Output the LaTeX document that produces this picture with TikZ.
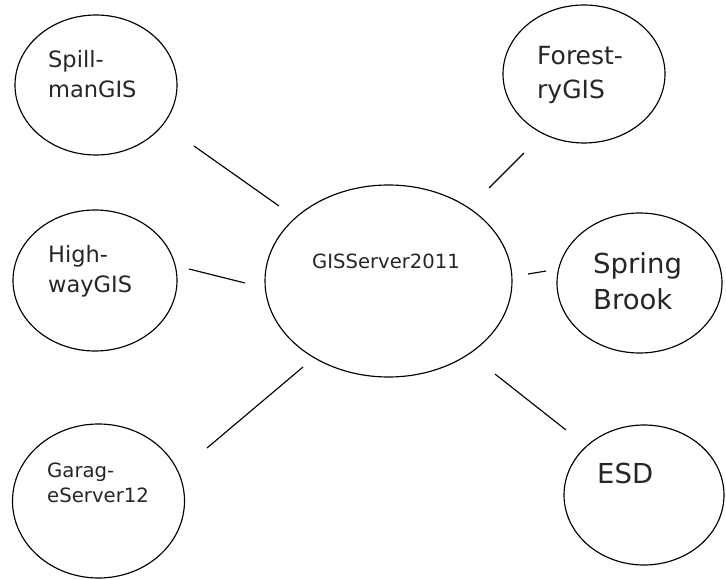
\documentclass[tikz,border=0pt]{standalone}
\usepackage{fontspec}
\setmainfont{DejaVu Sans}
\usetikzlibrary{shapes.geometric}
\newcommand{\twolns}[3]{\vtop{\baselineskip=#3pt\lineskiplimit=-100pt\hbox{#1}\hbox{#2}}}
\tikzset{
  bubble/.style={draw=black, line width=1.15pt, ellipse, inner sep=0pt},
  lbl/.style={anchor=base west, inner sep=0pt, text=black!85},
  link/.style={draw=black, line width=1.15pt}
}
\begin{document}
\begin{tikzpicture}[x=1pt,y=-1pt]
\useasboundingbox[fill=white] (0,0) rectangle (726,580);
% ellipses
\node[bubble, minimum width=162pt, minimum height=140pt] (sp) at (96,85) {};
\node[bubble, minimum width=164pt, minimum height=141pt] (hw) at (95,280.5) {};
\node[bubble, minimum width=172pt, minimum height=154pt] (gs) at (98.5,501) {};
\node[bubble, minimum width=247pt, minimum height=192pt] (gc) at (388.5,281) {};
\node[bubble, minimum width=162pt, minimum height=138pt] (fr) at (584,74) {};
\node[bubble, minimum width=165pt, minimum height=140pt] (sb) at (639.5,283) {};
\node[bubble, minimum width=160pt, minimum height=140pt] (es) at (644,495) {};
% labels
\node[lbl, font=\fontsize{22.5}{30}\selectfont] (tsp) at (48,68) {\twolns{Spill-}{manGIS}{30}};
\node[lbl, font=\fontsize{22.5}{30}\selectfont] (thw) at (48,263) {\twolns{High-}{wayGIS}{30}};
\node[lbl, font=\fontsize{19.7}{25}\selectfont] (tgs) at (47,477) {\twolns{Garag-}{eServer12}{25}};
\node[lbl, font=\fontsize{19.6}{24}\selectfont] (tgc) at (312,269) {GISServer2011};
\node[lbl, font=\fontsize{25}{34}\selectfont] (tfr) at (537,65) {\twolns{Forest-}{ryGIS}{34}};
\node[lbl, font=\fontsize{27.5}{36}\selectfont] (tsb) at (593,273) {\twolns{Spring}{Brook}{36}};
\node[lbl, font=\fontsize{27.5}{30}\selectfont] (tes) at (597,483) {ESD};
% connector end points (lines do not touch the ellipses)
\coordinate (spA) at (194,146); \coordinate (spB) at (279,206);
\coordinate (hwA) at (189,269); \coordinate (hwB) at (245,283);
\coordinate (frA) at (524,153); \coordinate (frB) at (489,188);
\coordinate (sbA) at (546,271); \coordinate (sbB) at (528,274);
\coordinate (gsA) at (207,448); \coordinate (gsB) at (303,367);
\coordinate (esA) at (566,430); \coordinate (esB) at (495,374);
\draw[link] (spA) -- (spB);
\draw[link] (hwA) -- (hwB);
\draw[link] (frA) -- (frB);
\draw[link] (sbA) -- (sbB);
\draw[link] (gsA) -- (gsB);
\draw[link] (esA) -- (esB);
\end{tikzpicture}
\end{document}
